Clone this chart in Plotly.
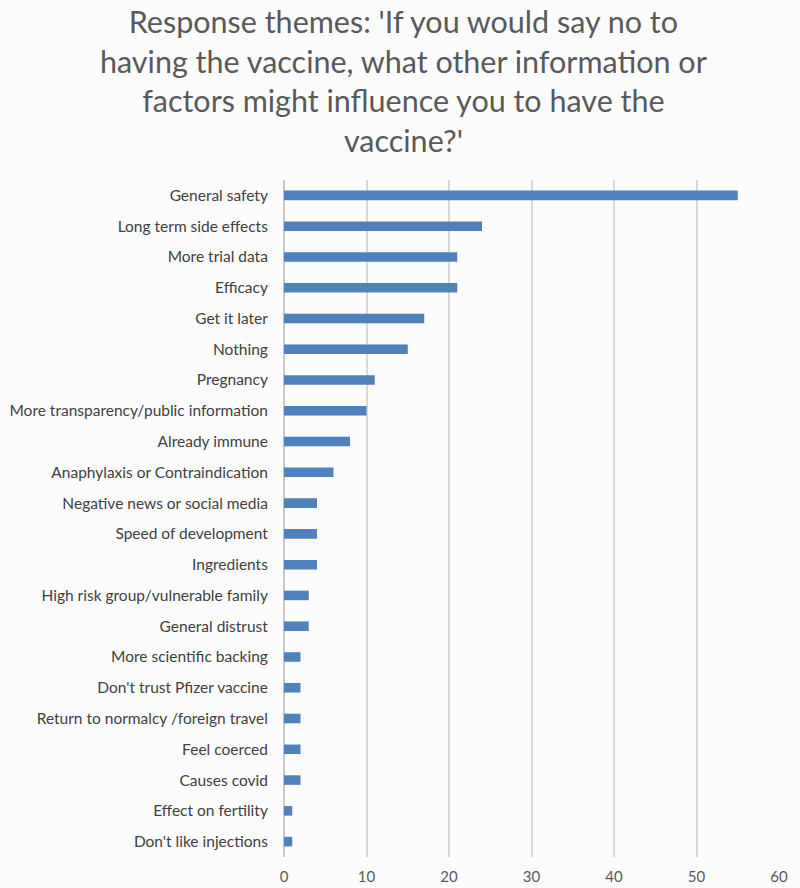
import plotly.graph_objects as go

categories = [
    "General safety", "Long term side effects", "More trial data", "Efficacy",
    "Get it later", "Nothing", "Pregnancy", "More transparency/public information",
    "Already immune", "Anaphylaxis or Contraindication", "Negative news or social media",
    "Speed of development", "Ingredients", "High risk group/vulnerable family",
    "General distrust", "More scientific backing", "Don't trust Pfizer vaccine",
    "Return to normalcy /foreign travel", "Feel coerced", "Causes covid",
    "Effect on fertility", "Don't like injections",
]
values = [55, 24, 21, 21, 17, 15, 11, 10, 8, 6, 4, 4, 4, 3, 3, 2, 2, 2, 2, 2, 1, 1]
x_ticks = [0, 10, 20, 30, 40, 50, 60]

title_text = ("Response themes: 'If you would say no to<br>having the vaccine, what other information or"
              "<br>factors might influence you to have the<br>vaccine?'")

W, H = 800, 888
ML, MR, MT, MB = 284, 21, 180, 31
plot_w = W - ML - MR
plot_h = H - MT - MB

fig = go.Figure(go.Bar(
    x=values, y=categories, orientation="h",
    marker=dict(color="#4F81BD", line=dict(width=0)),
))

fig.update_layout(
    width=W, height=H,
    paper_bgcolor="#fcfcfc", plot_bgcolor="#fcfcfc",
    margin=dict(l=ML, r=MR, t=MT, b=MB, autoexpand=False),
    bargap=0.69,
    showlegend=False,
    font=dict(family="Lato, Open Sans, sans-serif", color="#595959"),
    xaxis=dict(range=[0, 60], tickvals=x_ticks, showgrid=True, gridcolor="#d9d9d9",
               gridwidth=1.5, zeroline=True, zerolinecolor="#c8c8c8", zerolinewidth=1.5,
               showline=False, tickfont=dict(size=15, color="#595959"),
               ticks="outside", ticklen=6, tickcolor="rgba(0,0,0,0)"),
    yaxis=dict(autorange="reversed", showgrid=False, showline=False, ticks="outside",
               ticklen=12, tickcolor="rgba(0,0,0,0)",
               tickfont=dict(size=15.5, color="#404040")),
    annotations=[dict(
        text=title_text, xref="paper", yref="paper",
        x=(403 - ML) / plot_w, y=1 + (MT - 81) / plot_h,
        xanchor="center", yanchor="middle", showarrow=False, align="center",
        font=dict(size=30.5, color="#595959", family="Lato, Open Sans, sans-serif"),
    )],
)

fig.write_html("out.html", config={"displayModeBar": False},
               post_script="document.body.style.margin='0';")
